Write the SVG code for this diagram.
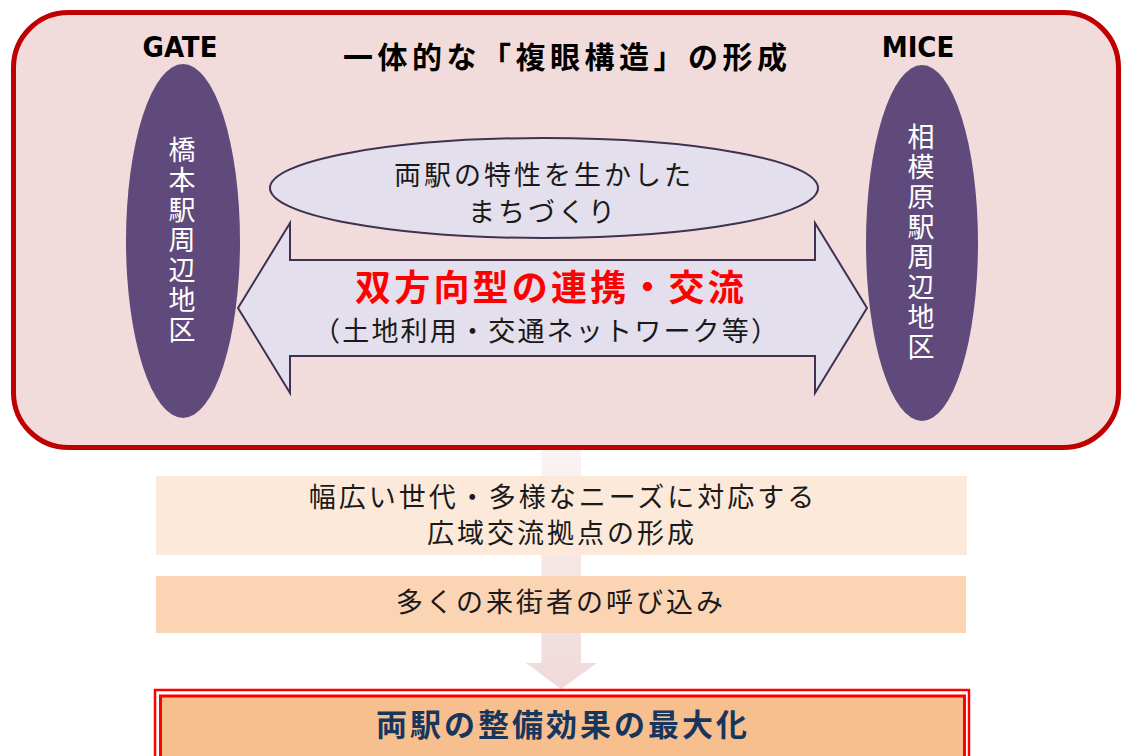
<svg xmlns="http://www.w3.org/2000/svg" width="1124" height="756" viewBox="0 0 1124 756">
<defs>
<linearGradient id="shaftGrad" x1="0" y1="0" x2="0" y2="1">
<stop offset="0" stop-color="#fbf3f3"/>
<stop offset="1" stop-color="#f0d9d9"/>
</linearGradient>
<style>
.jp{font-family:"Noto Sans CJK JP","Noto Sans CJK SC",sans-serif;}
.lat{font-family:"DejaVu Sans Condensed","DejaVu Sans",sans-serif;font-stretch:condensed;font-weight:bold;font-size:29px;fill:#000;text-anchor:middle;}
.dark{fill:#1a1a1a;font-size:27px;letter-spacing:3px;text-anchor:middle;}
.vert{fill:#ffffff;font-size:27px;letter-spacing:3px;writing-mode:vertical-rl;}
.lav{fill:#e4dfec;stroke:#3f3151;stroke-width:2;}
.purple{fill:#604a7b;}
</style>
</defs>
<rect width="1124" height="756" fill="#ffffff"/>
<g id="connectors">
<path d="M541.5,447 L581,447 L581,663 L597,663 L561,689 L526,663 L541.5,663 Z" fill="url(#shaftGrad)"/>
</g>
<g id="frame">
<rect x="13.5" y="12.5" width="1105" height="435" rx="55" ry="55" fill="#f2dcdb" stroke="#c00000" stroke-width="5"/>
<text class="jp" x="343" y="68" font-size="30" font-weight="bold" letter-spacing="4.5" fill="#000">一体的な「複眼構造」の形成</text>
</g>
<g id="gate">
<text class="lat" x="180" y="57">GATE</text>
<ellipse class="purple" cx="183" cy="241" rx="57" ry="177"/>
<text class="jp vert" x="182" y="136">橋本駅周辺地区</text>
</g>
<g id="mice">
<text class="lat" x="918" y="57">MICE</text>
<ellipse class="purple" cx="922" cy="243" rx="56" ry="178"/>
<text class="jp vert" x="921" y="123">相模原駅周辺地区</text>
</g>
<g id="machizukuri">
<ellipse class="lav" cx="544" cy="188" rx="274" ry="50"/>
<text class="jp dark" x="544" y="185">両駅の特性を生かした</text>
<text class="jp dark" x="543" y="221.5">まちづくり</text>
</g>
<g id="twoway">
<path class="lav" d="M238,308 L290,223 L290,260 L815,260 L815,223 L867,308 L815,393 L815,356 L290,356 L290,393 Z"/>
<text class="jp" x="355" y="301" font-size="36" font-weight="bold" letter-spacing="3.2" fill="#ff0000">双方向型の連携・交流</text>
<text class="jp" x="313" y="341" font-size="27" letter-spacing="2.2" fill="#1a1a1a">（土地利用・交通ネットワーク等）</text>
</g>
<g id="box1">
<rect x="156" y="476" width="811" height="79" fill="#fde9d9"/>
<text class="jp dark" x="563" y="507">幅広い世代・多様なニーズに対応する</text>
<text class="jp dark" x="562" y="543">広域交流拠点の形成</text>
</g>
<g id="box2">
<rect x="156" y="576" width="810" height="57" fill="#fbd4b4"/>
<text class="jp dark" x="561" y="612">多くの来街者の呼び込み</text>
</g>
<g id="result">
<rect x="155" y="690" width="814" height="80" fill="#ffffff" stroke="#ff0000" stroke-width="2.5"/>
<rect x="160.5" y="696" width="804" height="70" fill="#f8bf8e" stroke="#ff0000" stroke-width="3"/>
<text class="jp" x="563" y="736" font-size="31" font-weight="bold" letter-spacing="3" text-anchor="middle" fill="#17365d">両駅の整備効果の最大化</text>
</g>
</svg>
